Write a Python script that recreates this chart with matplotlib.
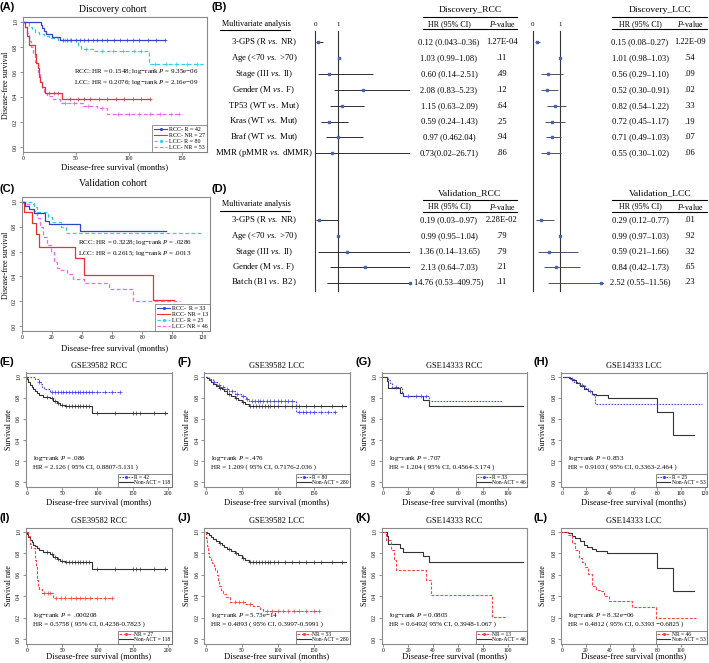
import numpy as np
import matplotlib
matplotlib.use('Agg')
import matplotlib.pyplot as plt
from matplotlib.lines import Line2D

plt.rcParams['font.family'] = ['Liberation Serif', 'DejaVu Serif']
plt.rcParams['mathtext.fontset'] = 'custom'
plt.rcParams['mathtext.rm'] = 'Liberation Serif'
plt.rcParams['mathtext.it'] = 'Liberation Serif:italic'
plt.rcParams['mathtext.bf'] = 'Liberation Serif:bold'

# ---------------------------------------------------------------- data
# Panel A  (Discovery cohort)
A_rcc_r_t = [0, 17, 18, 20, 22, 28, 35]
A_rcc_r_s = [1, 0.976, 0.952, 0.929, 0.905, 0.881, 0.857]
A_rcc_r_end = 134
A_rcc_r_c = [38, 42, 46, 50, 54, 58, 62, 66, 70, 75, 80, 86, 92, 98, 104, 110, 118, 126, 134]
A_rcc_nr_t = [0, 2, 4, 6, 12, 13, 14, 15, 16, 18, 21, 37]
A_rcc_nr_s = [1, 0.96, 0.89, 0.815, 0.74, 0.67, 0.63, 0.56, 0.52, 0.48, 0.43, 0.385]
A_rcc_nr_end = 120
A_rcc_nr_c = [25, 30, 33, 45, 52, 58, 64, 72, 80, 88, 96, 104, 112, 120]
A_lcc_r_t = [0, 3, 6, 9, 12, 15, 20, 25, 33, 52, 55, 66, 119]
A_lcc_r_s = [1, 0.99, 0.96, 0.94, 0.92, 0.9, 0.885, 0.87, 0.855, 0.81, 0.785, 0.765, 0.665]
A_lcc_r_end = 170
A_lcc_r_c = [40, 45, 60, 75, 85, 95, 105, 112, 125, 135, 145, 155, 165]
A_lcc_nr_t = [0, 2, 4, 6, 8, 10, 12, 14, 16, 18, 20, 23, 28, 35, 57, 70, 80]
A_lcc_nr_s = [1, 0.96, 0.91, 0.85, 0.8, 0.75, 0.68, 0.6, 0.52, 0.46, 0.43, 0.41, 0.38, 0.35, 0.33, 0.31, 0.265]
A_lcc_nr_end = 148
A_lcc_nr_c = [40, 48, 62, 75, 90, 100, 110, 120, 130, 140, 148]

# Panel C  (Validation cohort)
C_rcc_r_t = [0, 2, 4.5, 8, 15.5, 18, 38.5]
C_rcc_r_s = [1, 0.97, 0.94, 0.91, 0.85, 0.82, 0.77]
C_rcc_r_end = 96
C_rcc_nr_t = [0, 1.5, 7, 9.5, 11.5, 35, 41, 87]
C_rcc_nr_s = [1, 0.92, 0.83, 0.74, 0.64, 0.55, 0.415, 0.21]
C_rcc_nr_end = 101
C_lcc_r_t = [0, 8, 10, 17, 20, 26, 29]
C_lcc_r_s = [1, 0.96, 0.92, 0.88, 0.84, 0.8, 0.75]
C_lcc_r_end = 120
C_lcc_nr_t = [0, 3, 8, 10, 12, 14, 16.5, 19, 21, 23, 25, 30, 34, 41, 58, 74]
C_lcc_nr_s = [1, 0.98, 0.93, 0.87, 0.8, 0.72, 0.65, 0.6, 0.52, 0.47, 0.45, 0.42, 0.38, 0.35, 0.3, 0.2]
C_lcc_nr_end = 105

# GSE39582 / GSE14333 non-ACT groups
N39_rcc_t = [0, 1, 2.4, 4, 7, 9.4, 12, 14, 18, 23.6, 33, 37.7, 42.5, 47, 54, 92]
N39_rcc_s = [1, 0.975, 0.95, 0.925, 0.905, 0.88, 0.865, 0.85, 0.83, 0.81, 0.795, 0.77, 0.75, 0.73, 0.72, 0.655]
N39_rcc_end = 198
N39_rcc_c = [28, 36, 40, 44, 50, 56, 60, 64, 68, 72, 76, 80, 84, 88, 100, 125, 150, 155, 160, 180, 195]
N39_lcc_t = [0, 2, 4, 7, 10, 14, 18, 22, 26, 30, 35, 40, 45, 50, 55, 60]
N39_lcc_s = [1, 0.985, 0.97, 0.95, 0.935, 0.915, 0.895, 0.88, 0.86, 0.84, 0.82, 0.8, 0.78, 0.76, 0.74, 0.72]
N39_lcc_end = 195
N39_lcc_c = [20, 32, 42, 52, 62, 66, 70, 74, 78, 82, 86, 90, 95, 100, 110, 120, 130, 140, 150, 160, 175, 190]
N14_rcc_t = [0, 2.7, 4, 13.3, 16, 32, 36.5]
N14_rcc_s = [1, 0.96, 0.89, 0.85, 0.815, 0.775, 0.72]
N14_rcc_end = 112
N14_lcc_t = [0, 5, 8, 11, 15, 18, 21, 25, 28, 38, 80, 93]
N14_lcc_s = [1, 0.985, 0.965, 0.94, 0.91, 0.88, 0.86, 0.84, 0.825, 0.8, 0.665, 0.445]
N14_lcc_end = 111

# E-H responders (R)
E_r_t = [0, 12, 17, 20, 22, 25, 33]
E_r_s = [1, 0.976, 0.952, 0.929, 0.905, 0.881, 0.857]
E_r_end = 132
E_r_c = [18, 36, 40, 44, 48, 52, 56, 60, 64, 68, 72, 76, 80, 84, 88, 92, 100, 110, 120, 132]
F_r_t = [0, 5, 10, 15, 20, 25, 33, 40, 49, 56, 60, 125]
F_r_s = [1, 0.975, 0.95, 0.925, 0.9, 0.885, 0.86, 0.84, 0.82, 0.79, 0.77, 0.663]
F_r_end = 179
F_r_c = [12, 18, 24, 30, 36, 44, 52, 58, 64, 68, 72, 76, 80, 85, 90, 95, 100, 105, 110, 115, 120,
         130, 135, 140, 145, 150, 160, 170, 179]
G_r_t = [0, 4, 5.3, 6.7, 15, 16, 37]
G_r_s = [1, 0.97, 0.94, 0.905, 0.85, 0.82, 0.77]
G_r_end = 95
G_r_c = [10, 20, 26, 30, 34]
H_r_t = [0, 6, 10, 14, 18.6, 21.5, 25, 27]
H_r_s = [1, 0.98, 0.95, 0.92, 0.89, 0.86, 0.83, 0.74]
H_r_end = 117.5
H_r_c = [8, 16, 23]

# I-L non-responders (NR)
I_nr_t = [0, 2, 4, 6, 12, 13, 14, 15, 16, 18, 21, 37]
I_nr_s = [1, 0.96, 0.89, 0.85, 0.74, 0.67, 0.6, 0.55, 0.5, 0.47, 0.43, 0.385]
I_nr_end = 120
I_nr_c = [25, 30, 33, 42, 48, 54, 62, 70, 76, 82, 90, 100, 110, 120]
J_nr_t = [0, 1, 2, 3, 5, 7, 9, 11, 13, 15, 17, 19, 21, 24, 28, 34, 55, 66, 75, 79]
J_nr_s = [1, 0.94, 0.87, 0.8, 0.77, 0.74, 0.71, 0.68, 0.64, 0.6, 0.55, 0.5, 0.46, 0.42, 0.39, 0.35, 0.33, 0.31, 0.285, 0.265]
J_nr_end = 158
J_nr_c = [40, 46, 52, 62, 85, 92, 100, 108, 115, 122, 130, 140, 150, 158]
K_nr_t = [0, 1.9, 6, 9, 10, 34, 38, 87]
K_nr_s = [1, 0.92, 0.83, 0.74, 0.645, 0.55, 0.415, 0.205]
K_nr_end = 98
L_nr_t = [0, 5, 8, 11, 13.7, 16.5, 19.4, 22, 25, 28, 32, 35, 39.4, 59, 79]
L_nr_s = [1, 0.97, 0.9, 0.83, 0.76, 0.72, 0.67, 0.61, 0.5, 0.46, 0.45, 0.4, 0.355, 0.3, 0.2]
L_nr_end = 113

# Forest plots
disc_vars = ['3-GPS (R $\\mathit{vs.}$ NR)', 'Age (<70 $\\mathit{vs.}$ >70)', 'Stage (III $\\mathit{vs.}$ II)',
             'Gender (M $\\mathit{vs.}$ F)', 'TP53 (WT $\\mathit{vs.}$ Mut)', 'Kras (WT $\\mathit{vs.}$ Mut)',
             'Braf (WT $\\mathit{vs.}$ Mut)', 'MMR (pMMR $\\mathit{vs.}$ dMMR)']
disc_rcc_hr = [0.12, 1.03, 0.60, 2.08, 1.15, 0.59, 0.97, 0.73]
disc_rcc_lo = [0.043, 0.99, 0.14, 0.83, 0.63, 0.24, 0.46, 0.02]
disc_rcc_hi = [0.36, 1.08, 2.51, 5.23, 2.09, 1.43, 2.04, 26.71]
disc_rcc_txt = ['0.12 (0.043\u20130.36)', '1.03 (0.99\u20131.08)', '0.60 (0.14\u20132.51)', '2.08 (0.83\u20135.23)',
                '1.15 (0.63\u20132.09)', '0.59 (0.24\u20131.43)', '0.97 (0.462.04)', '0.73(0.02\u201326.71)']
disc_rcc_p = ['1.27E-04', '.11', '.49', '.12', '.64', '.25', '.94', '.86']
disc_lcc_hr = [0.15, 1.01, 0.56, 0.52, 0.82, 0.72, 0.71, 0.55]
disc_lcc_lo = [0.08, 0.98, 0.29, 0.30, 0.54, 0.45, 0.49, 0.30]
disc_lcc_hi = [0.27, 1.03, 1.10, 0.91, 1.22, 1.17, 1.03, 1.02]
disc_lcc_txt = ['0.15 (0.08\u20130.27)', '1.01 (0.98\u20131.03)', '0.56 (0.29\u20131.10)', '0.52 (0.30\u20130.91)',
                '0.82 (0.54\u20131.22)', '0.72 (0.45\u20131.17)', '0.71 (0.49\u20131.03)', '0.55 (0.30\u20131.02)']
disc_lcc_p = ['1.22E-09', '.54', '.09', '.02', '.33', '.19', '.07', '.06']

val_vars = ['3-GPS (R $\\mathit{vs.}$ NR)', 'Age (<70 $\\mathit{vs.}$ >70)', 'Stage (III $\\mathit{vs.}$ II)',
            'Gender (M $\\mathit{vs.}$ F)', 'Batch (B1 $\\mathit{vs.}$ B2)']
val_rcc_hr = [0.19, 0.99, 1.36, 2.13, 14.76]
val_rcc_lo = [0.03, 0.95, 0.14, 0.64, 0.53]
val_rcc_hi = [0.97, 1.04, 13.65, 7.03, 409.75]
val_rcc_txt = ['0.19 (0.03\u20130.97)', '0.99 (0.95\u20131.04)', '1.36 (0.14\u201313.65)', '2.13 (0.64\u20137.03)',
               '14.76 (0.53\u2013409.75)']
val_rcc_p = ['2.28E-02', '.79', '.79', '.21', '.11']
val_lcc_hr = [0.29, 0.99, 0.59, 0.84, 2.52]
val_lcc_lo = [0.12, 0.97, 0.21, 0.42, 0.55]
val_lcc_hi = [0.77, 1.03, 1.66, 1.73, 11.56]
val_lcc_txt = ['0.29 (0.12\u20130.77)', '0.99 (0.97\u20131.03)', '0.59 (0.21\u20131.66)', '0.84 (0.42\u20131.73)',
               '2.52 (0.55\u201311.56)']
val_lcc_p = ['.01', '.92', '.32', '.65', '.23']

# ---------------------------------------------------------------- figure helpers
W, H = 709, 663
fig = plt.figure(figsize=(W / 100, H / 100), dpi=100)


def pax(l, t, r, b):
    return fig.add_axes([l / W, 1 - b / H, (r - l) / W, (b - t) / H])


def ftext(x, y, s, **kw):
    kw.setdefault('ha', 'center')
    kw.setdefault('va', 'center')
    fig.text(x / W, 1 - y / H, s, **kw)


def hline(x1, x2, y, lw=0.8):
    fig.add_artist(Line2D([x1 / W, x2 / W], [1 - y / H, 1 - y / H], color='k', lw=lw,
                          transform=fig.transFigure))


def panel_letter(x, y, s):
    fig.text(x / W, 1 - y / H, s, ha='left', va='center', fontsize=8, fontweight='bold',
             family=['Liberation Sans', 'DejaVu Sans'])


def km(ax, t, s, end, color, ls, cens=None, lw=0.9, mk='+', ms=2.6):
    tt = list(t) + [end]
    ss = list(s) + [s[-1]]
    ax.step(tt, ss, where='post', color=color, ls=ls, lw=lw)
    if cens:
        c = np.asarray(cens, float)
        idx = np.searchsorted(np.asarray(t, float), c, side='right') - 1
        ax.plot(c, np.asarray(s)[idx], ls='none', marker=mk, ms=ms, mew=0.5, color=color)


def style_km(ax, xlim, xticks):
    ax.set_xlim(*xlim)
    ax.set_ylim(-0.04, 1.04)
    ax.set_xticks(xticks)
    yt = [0.0, 0.2, 0.4, 0.6, 0.8, 1.0]
    ax.set_yticks(yt)
    ax.set_yticklabels([f'{v:.1f}' for v in yt], rotation=90, va='center')
    ax.tick_params(labelsize=4, length=2, width=0.5, pad=1.2, color='#666666')
    for sp in ax.spines.values():
        sp.set_color('#8a8a8a')
        sp.set_linewidth(0.8)


BLUE = '#3344cc'
RED = '#ee3030'
CYAN = '#33ccee'
VIOL = '#ee66ee'
KBLUE = '#4444ee'
KRED = '#ff4040'
KBLK = '#333333'

# ---------------------------------------------------------------- Panel A
axA = pax(22.5, 17, 207, 152)
km(axA, A_lcc_nr_t, A_lcc_nr_s, A_lcc_nr_end, VIOL, (0, (3, 2)), A_lcc_nr_c)
km(axA, A_lcc_r_t, A_lcc_r_s, A_lcc_r_end, CYAN, (0, (3, 2)), A_lcc_r_c)
km(axA, A_rcc_nr_t, A_rcc_nr_s, A_rcc_nr_end, RED, '-', A_rcc_nr_c)
km(axA, A_rcc_r_t, A_rcc_r_s, A_rcc_r_end, BLUE, '-', A_rcc_r_c)
style_km(axA, (-0.2, 174), [0, 50, 100, 150])
axA.text(0.28, 0.555, 'RCC: HR = 0.1548; log\u2212rank $\\mathit{P}$ = 9.35e\u221206\n'
         'LCC: HR = 0.2076; log\u2212rank $\\mathit{P}$ = 2.16e\u221209',
         transform=axA.transAxes, fontsize=5, ha='left', va='center', linespacing=1.3)
hA = [Line2D([], [], color=BLUE, ls='-', marker='.', ms=2.5, lw=0.8),
      Line2D([], [], color=RED, ls='-', lw=0.8),
      Line2D([], [], color=CYAN, ls=(0, (3, 2)), marker='.', ms=2.5, lw=0.8),
      Line2D([], [], color=VIOL, ls=(0, (3, 2)), lw=0.8)]
legA = axA.legend(hA, ['RCC- R = 42', 'RCC- NR = 27', 'LCC- R = 80', 'LCC- NR = 53'],
                  loc='lower right', fontsize=4.3, borderaxespad=0, fancybox=False,
                  handlelength=2.2, labelspacing=0.15, borderpad=0.3, handletextpad=0.3)
legA.get_frame().set_edgecolor('#666666')
legA.get_frame().set_linewidth(0.6)
ftext(113, 9, 'Discovery cohort', fontsize=7)
ftext(115, 167, 'Disease-free survival (months)', fontsize=6.2)
ftext(6, 85, 'Disease-free survival', fontsize=5.7, rotation=90)
panel_letter(0, 7, '(A)')

# ---------------------------------------------------------------- Panel C
axC = pax(21.5, 197, 210, 331)
km(axC, C_lcc_nr_t, C_lcc_nr_s, C_lcc_nr_end, VIOL, (0, (3, 2)))
km(axC, C_lcc_r_t, C_lcc_r_s, C_lcc_r_end, CYAN, (0, (3, 2)))
km(axC, C_rcc_nr_t, C_rcc_nr_s, C_rcc_nr_end, RED, '-')
km(axC, C_rcc_r_t, C_rcc_r_s, C_rcc_r_end, BLUE, '-')
style_km(axC, (-0.3, 125), [0, 20, 40, 60, 80, 100, 120])
axC.text(0.3, 0.62, 'RCC: HR = 0.3228; log\u2212rank $\\mathit{P}$ = .0286\n'
         'LCC: HR = 0.2615; log\u2212rank $\\mathit{P}$ = .0013',
         transform=axC.transAxes, fontsize=5, ha='left', va='center', linespacing=1.3)
hC = [Line2D([], [], color=BLUE, ls='-', marker='.', ms=2.5, lw=0.8),
      Line2D([], [], color=RED, ls='-', lw=0.8),
      Line2D([], [], color=CYAN, ls=(0, (3, 2)), marker='.', ms=2.5, lw=0.8),
      Line2D([], [], color=VIOL, ls=(0, (3, 2)), lw=0.8)]
legC = axC.legend(hC, ['RCC-  R = 33', 'RCC- NR = 13', 'LCC- R = 25', 'LCC- NR = 46'],
                  loc='lower right', fontsize=4.3, borderaxespad=0, fancybox=False,
                  handlelength=2.2, labelspacing=0.15, borderpad=0.3, handletextpad=0.3)
legC.get_frame().set_edgecolor('#666666')
legC.get_frame().set_linewidth(0.6)
ftext(113, 183, 'Validation cohort', fontsize=7)
ftext(115, 348, 'Disease-free survival (months)', fontsize=6.2)
ftext(6, 265, 'Disease-free survival', fontsize=5.7, rotation=90)
panel_letter(0, 189, '(C)')

# ---------------------------------------------------------------- Panels B / D (forest)
rowsB = [42, 58, 74, 90, 106, 121.5, 137, 153]
rowsD = [220, 236, 251.5, 267, 282.5]
TOP, BOT = 31, 292
col1 = dict(l=300, r=410, zero=315, one=338.3, txt=449, p=502, head=470, u1=423, u2=517)
col2 = dict(l=520, r=604, zero=532.7, one=560, txt=640, p=690, head=660, u1=612, u2=707)


def forest_axis(c):
    ax = pax(c['l'], TOP, c['r'], BOT)
    unit = c['one'] - c['zero']
    ax.set_xlim((c['l'] - c['zero']) / unit, (c['r'] - c['zero']) / unit)
    ax.set_ylim(BOT, TOP)
    ax.axis('off')
    ax.axvline(0, color='#333333', lw=0.8)
    ax.axvline(1, color='#333333', lw=0.8)
    ftext(c['zero'], 25, '0', fontsize=5)
    ftext(c['one'], 25, '1', fontsize=5)
    return ax


def forest_rows(ax, c, rows, hr, lo, hi, txt, pv, lc):
    x0, x1 = ax.get_xlim()
    for y, h, a, b in zip(rows, hr, lo, hi):
        ax.plot([a, b], [y, y], color=lc, lw=0.7, solid_capstyle='butt')
    ax.plot(np.clip(hr, x0, x1), rows, ls='none', marker='s', ms=1.9, color='#4a64b0',
            clip_on=False)
    for y, t, p in zip(rows, txt, pv):
        ftext(c['txt'], y, t, fontsize=6.1)
        ftext(c['p'], y, p, fontsize=6.1)


def header(c, y_title, y_cols, title):
    ftext(c['head'], y_title, title, fontsize=6.8)
    hline(c['u1'], c['u2'], y_title + 6.5)
    ftext(c['txt'], y_cols, 'HR (95% CI)', fontsize=5.8)
    ftext(c['p'], y_cols, '$\\mathit{P}$-value', fontsize=5.8)
    hline(c['u1'], c['u2'], y_cols + 5.3)


ax1 = forest_axis(col1)
ax2 = forest_axis(col2)
forest_rows(ax1, col1, rowsB, disc_rcc_hr, disc_rcc_lo, disc_rcc_hi, disc_rcc_txt, disc_rcc_p, '#2a2a3a')
forest_rows(ax2, col2, rowsB, disc_lcc_hr, disc_lcc_lo, disc_lcc_hi, disc_lcc_txt, disc_lcc_p, '#4a5068')
forest_rows(ax1, col1, rowsD, val_rcc_hr, val_rcc_lo, val_rcc_hi, val_rcc_txt, val_rcc_p, '#2a2a3a')
forest_rows(ax2, col2, rowsD, val_lcc_hr, val_lcc_lo, val_lcc_hi, val_lcc_txt, val_lcc_p, '#4a5068')
header(col1, 10, 24, 'Discovery_RCC')
header(col2, 10, 24, 'Discovery_LCC')
header(col1, 193.5, 206.5, 'Validation_RCC')
header(col2, 193.5, 206.5, 'Validation_LCC')
for y, v in zip(rowsB, disc_vars):
    ftext(264, y, v, fontsize=6.3)
for y, v in zip(rowsD, val_vars):
    ftext(264, y, v, fontsize=6.3)
ftext(256, 24, 'Multivariate analysis', fontsize=5.9)
hline(220, 290, 30)
ftext(256, 204, 'Multivariate analysis', fontsize=5.9)
hline(220, 290, 211)
panel_letter(212, 7, '(B)')
panel_letter(212, 189, '(D)')

# ---------------------------------------------------------------- Panels E-L
def small_km(box, xlim, xticks, title, title_y, ylab_x, xlab_y, curves, leg_labels, leg_styles, ann, ann_pos):
    l, t, r, b = box
    ax = pax(l, t, r, b)
    for cv in curves:
        km(ax, *cv)
    style_km(ax, xlim, xticks)
    ftext((l + r) / 2, title_y, title, fontsize=6)
    ftext((l + r) / 2, xlab_y, 'Disease-free survival (months)', fontsize=6.1)
    ftext(ylab_x, (t + b) / 2, 'Survival rate', fontsize=5.7, rotation=90)
    ax.text(ann_pos[0], ann_pos[1], ann, transform=ax.transAxes, fontsize=5, ha='left',
            va='center', linespacing=1.3)
    hs = [Line2D([], [], **st) for st in leg_styles]
    lg = ax.legend(hs, leg_labels, loc='lower right', fontsize=4, borderaxespad=0, fancybox=False,
                   handlelength=2.4, labelspacing=0.05, borderpad=0.2, handletextpad=0.3)
    lg.get_frame().set_edgecolor('#555555')
    lg.get_frame().set_linewidth(0.6)
    return ax


DOT = (0, (1.5, 1.2))
DASH = (0, (2.5, 1.5))
styR = dict(color=KBLUE, ls=DOT, marker='.', ms=2.5, lw=0.8)
styNR = dict(color=KRED, ls=DASH, marker='.', ms=2.5, lw=0.8)
styN = dict(color=KBLK, ls='-', lw=0.8)

rowE = (372.5, 486.5)
rowI = (527.5, 643.5)
xE = (-1.7, 205); xF = (-2.4, 200.5); xG = (-1.3, 115); xH = (-1.4, 122); xL = (-1.1, 122)
bxE = (25.5, 171.7); bxF = (204, 350); bxG = (381.5, 527); bxH = (561, 707)
XLE, XLI = 502.5, 656

small_km((bxE[0], rowE[0], bxE[1], rowE[1]), xE, [0, 50, 100, 150, 200], 'GSE39582 RCC', 366, 9, XLE,
         [(N39_rcc_t, N39_rcc_s, N39_rcc_end, KBLK, '-', N39_rcc_c, 0.8),
          (E_r_t, E_r_s, E_r_end, KBLUE, DOT, E_r_c, 0.8)],
         ['R = 42', 'Non-ACT = 118'], [styR, styN],
         'log\u2212rank $\\mathit{P}$ = .086\nHR = 2.126 ( 95% CI, 0.8807-5.131 )', (0.05, 0.215))
small_km((bxF[0], rowE[0], bxF[1], rowE[1]), xF, [0, 50, 100, 150], 'GSE39582 LCC', 366, 187, XLE,
         [(N39_lcc_t, N39_lcc_s, N39_lcc_end, KBLK, '-', N39_lcc_c, 0.8),
          (F_r_t, F_r_s, F_r_end, KBLUE, DOT, F_r_c, 0.8)],
         ['R = 80', 'Non-ACT = 280'], [styR, styN],
         'log\u2212rank $\\mathit{P}$ = .476\nHR = 1.209 ( 95% CI, 0.7176-2.036 )', (0.05, 0.215))
small_km((bxG[0], rowE[0], bxG[1], rowE[1]), xG, [0, 20, 40, 60, 80, 100], 'GSE14333 RCC', 366, 365, XLE,
         [(N14_rcc_t, N14_rcc_s, N14_rcc_end, KBLK, '-', None, 0.8),
          (G_r_t, G_r_s, G_r_end, KBLUE, DOT, G_r_c, 0.8)],
         ['R = 33', 'Non-ACT = 46'], [styR, styN],
         'log\u2212rank $\\mathit{P}$ = .707\nHR = 1.204 ( 95% CI, 0.4564-3.174 )', (0.05, 0.215))
small_km((bxH[0], rowE[0], bxH[1], rowE[1]), xH, [0, 20, 40, 60, 80, 100, 120], 'GSE14333 LCC', 366, 543, XLE,
         [(N14_lcc_t, N14_lcc_s, N14_lcc_end, KBLK, '-', None, 0.8),
          (H_r_t, H_r_s, H_r_end, KBLUE, DOT, H_r_c, 0.8)],
         ['R = 25', 'Non-ACT = 53'], [styR, styN],
         'log\u2212rank $\\mathit{P}$ = 0.853\nHR = 0.9103 ( 95% CI, 0.3363-2.464 )', (0.05, 0.215))

small_km((bxE[0], rowI[0], bxE[1], rowI[1]), xE, [0, 50, 100, 150, 200], 'GSE39582 RCC', 521, 9, XLI,
         [(N39_rcc_t, N39_rcc_s, N39_rcc_end, KBLK, '-', N39_rcc_c, 0.8),
          (I_nr_t, I_nr_s, I_nr_end, KRED, DASH, I_nr_c, 0.8)],
         ['NR = 27', 'Non-ACT = 118'], [styNR, styN],
         'log\u2212rank $\\mathit{P}$ =  .000208\nHR = 0.5758 ( 95% CI, 0.4238-0.7823 )', (0.05, 0.215))
small_km((bxF[0], rowI[0], bxF[1], rowI[1]), xF, [0, 50, 100, 150], 'GSE39582 LCC', 521, 187, XLI,
         [(N39_lcc_t, N39_lcc_s, N39_lcc_end, KBLK, '-', N39_lcc_c, 0.8),
          (J_nr_t, J_nr_s, J_nr_end, KRED, DASH, J_nr_c, 0.8)],
         ['NR = 53', 'Non-ACT = 280'], [styNR, styN],
         'log\u2212rank $\\mathit{P}$ = 5.73e\u221214\nHR = 0.4893 ( 95% CI, 0.3997-0.5991 )', (0.05, 0.215))
small_km((bxG[0], rowI[0], bxG[1], rowI[1]), xG, [0, 20, 40, 60, 80, 100], 'GSE14333 RCC', 521, 365, XLI,
         [(N14_rcc_t, N14_rcc_s, N14_rcc_end, KBLK, '-', None, 0.8),
          (K_nr_t, K_nr_s, K_nr_end, KRED, DASH, None, 0.8)],
         ['NR = 13', 'Non-ACT = 46'], [styNR, styN],
         'log\u2212rank $\\mathit{P}$ = 0.0805\nHR = 0.6492( 95% CI, 0.3948-1.067 )', (0.05, 0.215))
small_km((bxH[0], rowI[0], bxH[1], rowI[1]), xL, [0, 20, 40, 60, 80, 100], 'GSE14333 LCC', 521, 543, XLI,
         [(N14_lcc_t, N14_lcc_s, N14_lcc_end, KBLK, '-', None, 0.8),
          (L_nr_t, L_nr_s, L_nr_end, KRED, DASH, None, 0.8)],
         ['NR = 46', 'Non-ACT = 53'], [styNR, styN],
         'log\u2212rank $\\mathit{P}$ = 8.32e\u221206\nHR = 0.4812 ( 95% CI, 0.3393 \u22120.6825 )', (0.05, 0.215))

for x, y, s in [(0, 362, '(E)'), (178, 362, '(F)'), (355, 362, '(G)'), (533, 362, '(H)'),
                (0, 518, '(I)'), (178, 518, '(J)'), (355, 518, '(K)'), (533, 518, '(L)')]:
    panel_letter(x, y, s)

fig.savefig('out.png', dpi=100)
